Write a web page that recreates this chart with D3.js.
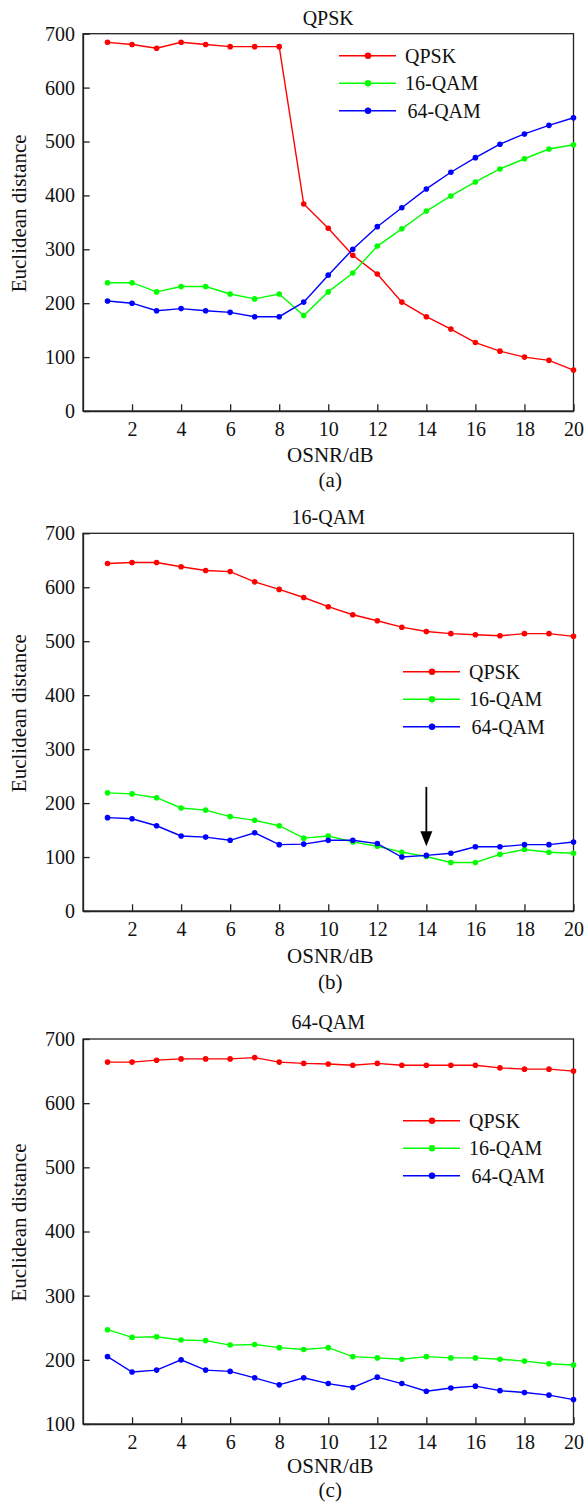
<!DOCTYPE html>
<html>
<head>
<meta charset="utf-8">
<script src="https://cdn.jsdelivr.net/npm/d3@7"></script>
<style>
  body { margin: 0; background: #fff; }
  svg { display: block; }
  svg text { font-family: "Liberation Serif", "Times New Roman", Times, "DejaVu Serif", serif !important; fill: #111; }
</style>
</head>
<body>
<svg id="chart" width="586" height="1502"></svg>
<script>
// ---- data ----
const osnr = [1, 2, 3, 4, 5, 6, 7, 8, 9, 10, 11, 12, 13, 14, 15, 16, 17, 18, 19, 20];
const xTicks = [2, 4, 6, 8, 10, 12, 14, 16, 18, 20];
const seriesNames = ["QPSK", "16-QAM", "64-QAM"];
const seriesColors = ["#ff0000", "#00ff00", "#0000ff"];
const panelTitles = ["QPSK", "16-QAM", "64-QAM"];
const panelLabels = ["(a)", "(b)", "(c)"];
const xTitle = "OSNR/dB";
const yTitle = "Euclidean distance";

const yTicksAB = [0, 100, 200, 300, 400, 500, 600, 700];
const yTicksC = [100, 200, 300, 400, 500, 600, 700];

// panel (a): QPSK signal
const aQPSK  = [684, 680, 673, 684, 680, 676, 676, 676, 384, 339, 289, 254, 202, 175, 152, 127, 111, 100, 94, 76];
const a16QAM = [238, 238, 221, 231, 231, 217, 208, 217, 177, 221, 256, 306, 338, 371, 399, 425, 449, 468, 486, 494];
const a64QAM = [204, 200, 186, 190, 186, 183, 175, 175, 202, 252, 300, 342, 377, 412, 443, 470, 495, 514, 530, 544];

// panel (b): 16-QAM signal
const bQPSK  = [644, 646, 646, 638, 631, 629, 610, 596, 581, 564, 549, 538, 526, 518, 514, 512, 510, 514, 514, 509];
const b16QAM = [219, 217, 210, 191, 187, 175, 168, 158, 135, 139, 128, 120, 109, 101, 90, 90, 105, 114, 109, 107];
const b64QAM = [173, 171, 158, 139, 137, 131, 145, 123, 124, 131, 131, 125, 100, 103, 107, 119, 119, 123, 123, 128];

// panel (c): 64-QAM signal
const cQPSK  = [664, 664, 667, 669, 669, 669, 671, 664, 662, 661, 659, 662, 659, 659, 659, 659, 655, 653, 653, 650];
const c16QAM = [247, 235, 236, 231, 230, 223, 224, 219, 216, 219, 205, 203, 201, 205, 203, 203, 201, 198, 194, 192];
const c64QAM = [205, 181, 184, 200, 184, 182, 172, 161, 172, 163, 157, 173, 163, 151, 156, 159, 152, 149, 145, 138];

// arrow in panel (b): from value to value at x
const arrowX = 14;
const arrowFrom = 230;
const arrowTo = 120;

// ---- layout ----
const FONT = "'Liberation Serif', 'Times New Roman', Times, 'DejaVu Serif', serif";
const svg = d3.select("#chart").attr("font-family", FONT);
const plotLeft = 83, plotRight = 573.5;
const panels = [
  { top: 33.7, bottom: 411, yDomain: [0, 700], yTicks: yTicksAB, series: [aQPSK, a16QAM, a64QAM],
    legend: { x: 339, y: 55.7 }, titleY: 18, xTitleY: 455, labelY: 480 },
  { top: 533.3, bottom: 911, yDomain: [0, 700], yTicks: yTicksAB, series: [bQPSK, b16QAM, b64QAM],
    legend: { x: 403, y: 671.7 }, titleY: 517, xTitleY: 956, labelY: 982 },
  { top: 1039, bottom: 1424, yDomain: [100, 700], yTicks: yTicksC, series: [cQPSK, c16QAM, c64QAM],
    legend: { x: 403, y: 1120.7 }, titleY: 1022, xTitleY: 1466, labelY: 1490 }
];
panels[1].arrow = true;

const x = d3.scaleLinear().domain([0, 20]).range([plotLeft, plotRight]);

panels.forEach((p, i) => {
  const y = d3.scaleLinear().domain(p.yDomain).range([p.bottom, p.top]);
  const g = svg.append("g");

  // frame
  g.append("rect")
    .attr("x", plotLeft).attr("y", p.top)
    .attr("width", plotRight - plotLeft).attr("height", p.bottom - p.top)
    .attr("fill", "none").attr("stroke", "#222").attr("stroke-width", 1.3);

  // x axis (inward ticks)
  const xAxis = d3.axisBottom(x).tickValues(xTicks).tickSizeInner(-6.7).tickSizeOuter(0).tickPadding(11);
  const gx = g.append("g").attr("transform", `translate(0,${p.bottom})`).call(xAxis)
    .attr("font-family", FONT).attr("font-size", 20);
  gx.select(".domain").attr("stroke", "#222").attr("stroke-width", 1.3);
  gx.selectAll(".tick line").attr("stroke", "#222").attr("stroke-width", 1.3);
  gx.selectAll(".tick text").attr("font-size", 20).attr("font-family", FONT).attr("fill", "#111");

  // y axis (inward ticks)
  const yAxis = d3.axisLeft(y).tickValues(p.yTicks).tickSizeInner(-6.7).tickSizeOuter(0).tickPadding(8);
  const gy = g.append("g").attr("transform", `translate(${plotLeft},0)`).call(yAxis)
    .attr("font-family", FONT).attr("font-size", 20);
  gy.select(".domain").attr("stroke", "#222").attr("stroke-width", 1.3);
  gy.selectAll(".tick line").attr("stroke", "#222").attr("stroke-width", 1.3);
  gy.selectAll(".tick text").attr("font-size", 20).attr("font-family", FONT).attr("fill", "#111");

  // titles
  g.append("text").attr("x", (plotLeft + plotRight) / 2).attr("y", p.titleY)
    .attr("text-anchor", "middle").attr("dominant-baseline", "central")
    .attr("font-family", FONT).attr("font-size", 20).text(panelTitles[i]);
  g.append("text").attr("x", (plotLeft + plotRight) / 2 + 2).attr("y", p.xTitleY)
    .attr("text-anchor", "middle").attr("dominant-baseline", "central")
    .attr("font-family", FONT).attr("font-size", 21).text(xTitle);
  g.append("text").attr("x", (plotLeft + plotRight) / 2 + 2).attr("y", p.labelY)
    .attr("text-anchor", "middle").attr("dominant-baseline", "central")
    .attr("font-family", FONT).attr("font-size", 21).text(panelLabels[i]);
  const yc = (p.top + p.bottom) / 2 - 9;
  g.append("text").attr("transform", `translate(19,${yc}) rotate(-90)`)
    .attr("text-anchor", "middle").attr("dominant-baseline", "central")
    .attr("font-family", FONT).attr("font-size", 21).text(yTitle);

  // series
  const line = d3.line().x((d, k) => x(osnr[k])).y(d => y(d));
  p.series.forEach((vals, s) => {
    g.append("path").datum(vals).attr("d", line)
      .attr("fill", "none").attr("stroke", seriesColors[s]).attr("stroke-width", 1.4);
    g.selectAll(null).data(vals).enter().append("circle")
      .attr("cx", (d, k) => x(osnr[k])).attr("cy", d => y(d))
      .attr("r", 2.8).attr("fill", seriesColors[s]);
  });

  // legend
  const lg = g.append("g");
  seriesNames.forEach((name, s) => {
    const ly = p.legend.y + s * 27.5;
    lg.append("line").attr("x1", p.legend.x).attr("x2", p.legend.x + 57)
      .attr("y1", ly).attr("y2", ly)
      .attr("stroke", seriesColors[s]).attr("stroke-width", 1.4);
    lg.append("circle").attr("cx", p.legend.x + 29).attr("cy", ly).attr("r", 3.2)
      .attr("fill", seriesColors[s]);
    lg.append("text").attr("x", p.legend.x + 66 + (s === 2 ? 2.5 : 0)).attr("y", ly)
      .attr("dominant-baseline", "central")
      .attr("font-family", FONT).attr("font-size", 20).text(name);
  });

  // arrow
  if (p.arrow) {
    const ax = x(arrowX), y1 = y(arrowFrom), y2 = y(arrowTo);
    g.append("line").attr("x1", ax).attr("x2", ax).attr("y1", y1).attr("y2", y2 - 12)
      .attr("stroke", "#000").attr("stroke-width", 1.8);
    g.append("path")
      .attr("d", `M${ax - 6},${y2 - 15} L${ax + 6},${y2 - 15} L${ax},${y2} Z`)
      .attr("fill", "#000");
  }
});
</script>
</body>
</html>
